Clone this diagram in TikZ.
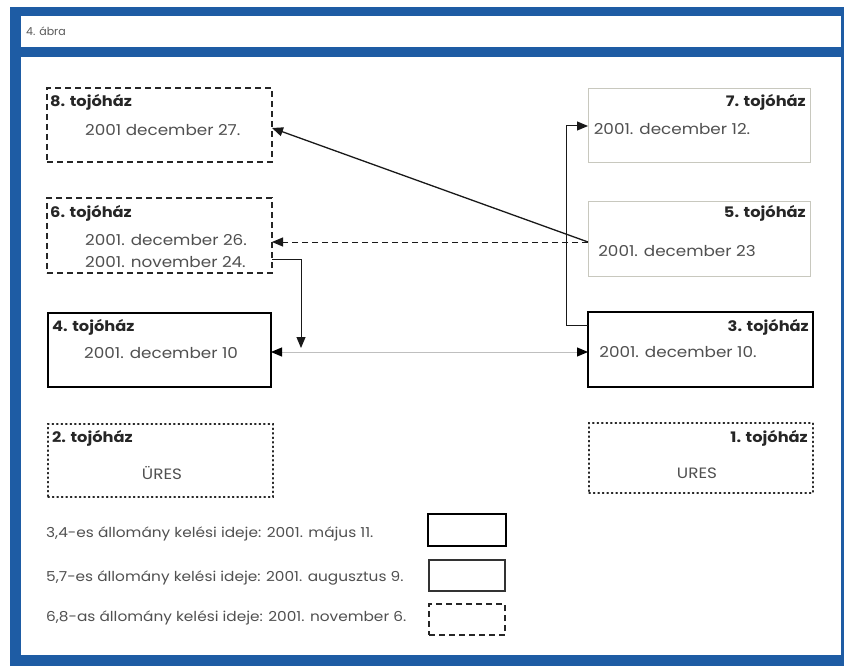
\documentclass[tikz,border=0pt]{standalone}
\usepackage{fontspec}
\setmainfont{Poppins}
\newfontfamily\widefont[FakeStretch=1.12]{Poppins}
\usetikzlibrary{arrows.meta}
\definecolor{frameblue}{RGB}{30,92,164}
\definecolor{txtgray}{RGB}{80,80,80}
\definecolor{lightbox}{RGB}{200,200,190}
\tikzset{
  boxbase/.style={draw, inner sep=0pt, outer sep=0pt},
  dashbox/.style={boxbase, line width=1.2pt, dash pattern=on 6pt off 4pt, draw=black!85},
  thickbox/.style={boxbase, line width=2.2pt, draw=black},
  thinbox/.style={boxbase, line width=1pt, draw=lightbox},
  dotbox/.style={boxbase, line width=1.3pt, dash pattern=on 1.3pt off 3.2pt, line cap=round, draw=black!85},
  ttl/.style={font=\widefont\bfseries\fontsize{14.5}{16}\selectfont, text=black!85, inner sep=0pt},
  dt/.style={font=\widefont\fontsize{15}{17}\selectfont, text=txtgray, inner sep=0pt},
  lg/.style={font=\widefont\fontsize{13.7}{16}\selectfont, text=txtgray, inner sep=0pt, anchor=west},
  arr/.style={line width=1pt, draw=black!90, -{Triangle[length=11pt,width=9pt]}},
}
\begin{document}
\begin{tikzpicture}[x=1pt,y=-1pt]
\useasboundingbox (0,0) rectangle (844,666);
\fill[frameblue] (10,7) rectangle (844,666);
\fill[white] (21,16) rectangle (841,47);
\fill[white] (21,57) rectangle (841,655);
\node[anchor=west, inner sep=0pt, font=\fontsize{11}{13}\selectfont, text=black!65] (title) at (26,31) {4. ábra};

% boxes
\node[dashbox, minimum width=225pt, minimum height=74pt] (b8) at (159.5,125) {};
\node[dashbox, minimum width=225pt, minimum height=75pt] (b6) at (159.5,235.5) {};
\node[thickbox, minimum width=223pt, minimum height=74pt] (b4) at (159.5,350) {};
\node[dotbox, minimum width=225pt, minimum height=73pt] (b2) at (160.5,460.5) {};
\node[thinbox, minimum width=222pt, minimum height=74pt] (b7) at (699,126) {};
\node[thinbox, minimum width=222pt, minimum height=74pt] (b5) at (699,239) {};
\node[thickbox, minimum width=225pt, minimum height=75pt] (b3) at (700.5,349.5) {};
\node[dotbox, minimum width=224pt, minimum height=70pt] (b1) at (701,458) {};

% labels
\node[ttl, anchor=west] (t8) at (50,102) {8. tojóház};
\node[dt, anchor=west] (d8) at (85,130) {2001 december 27.};
\node[ttl, anchor=west] (t6) at (50,213) {6. tojóház};
\node[dt, anchor=west] (d6a) at (85,240) {2001. december 26.};
\node[dt, anchor=west] (d6b) at (85,262) {2001. november 24.};
\node[ttl, anchor=west] (t4) at (52,327) {4. tojóház};
\node[dt, anchor=west] (d4) at (84,353) {2001. december 10};
\node[ttl, anchor=west] (t2) at (52,438) {2. tojóház};
\node[dt] (d2) at (162,473) {ÜRES};
\node[ttl, anchor=east] (t7) at (806,102) {7. tojóház};
\node[dt] (d7) at (672,129) {2001. december 12.};
\node[ttl, anchor=east] (t5) at (806,213) {5. tojóház};
\node[dt] (d5) at (677,251) {2001. december 23};
\node[ttl, anchor=east] (t3) at (809,327) {3. tojóház};
\node[dt] (d3) at (678,352) {2001. december 10.};
\node[ttl, anchor=east] (t1) at (808,438) {1. tojóház};
\node[dt] (d1) at (697,473) {URES};

% connectors
\draw[arr, line width=1.3pt] ([yshift=-3pt]b5.west) -- ([yshift=-3pt]b8.east);
\draw[arr, dashed, dash pattern=on 6pt off 4pt] ([yshift=-3pt]b5.west) -- ([yshift=-3pt]b5.west -| b6.east);
\coordinate (k1) at (301,348);
\draw[arr] ([yshift=-23.5pt]b6.east) -| (k1);
\draw[line width=1pt, draw=black!25, {Triangle[length=11pt,width=9pt,color=black]}-{Triangle[length=11pt,width=9pt,color=black]}] ([yshift=-2pt]b4.east) -- ([yshift=-2pt]b4.east -| b3.west);
\coordinate (k2) at (566,325);
\draw[arr] ([yshift=24.5pt]b3.west) -- (k2) |- (b7.west);

% legend
\node[lg] (l1) at (46,534) {3,4-es állomány kelési ideje: 2001. május 11.};
\node[lg] (l2) at (46,578) {5,7-es állomány kelési ideje: 2001. augusztus 9.};
\node[lg] (l3) at (46,618) {6,8-as állomány kelési ideje: 2001. november 6.};
\node[boxbase, line width=2.2pt, minimum width=78pt, minimum height=32pt] (lb1) at (467,530) {};
\node[boxbase, line width=1.4pt, draw=black!80, minimum width=76pt, minimum height=31pt] (lb2) at (467,575.5) {};
\node[dashbox, minimum width=76pt, minimum height=31pt] (lb3) at (467,619.5) {};
\end{tikzpicture}
\end{document}
